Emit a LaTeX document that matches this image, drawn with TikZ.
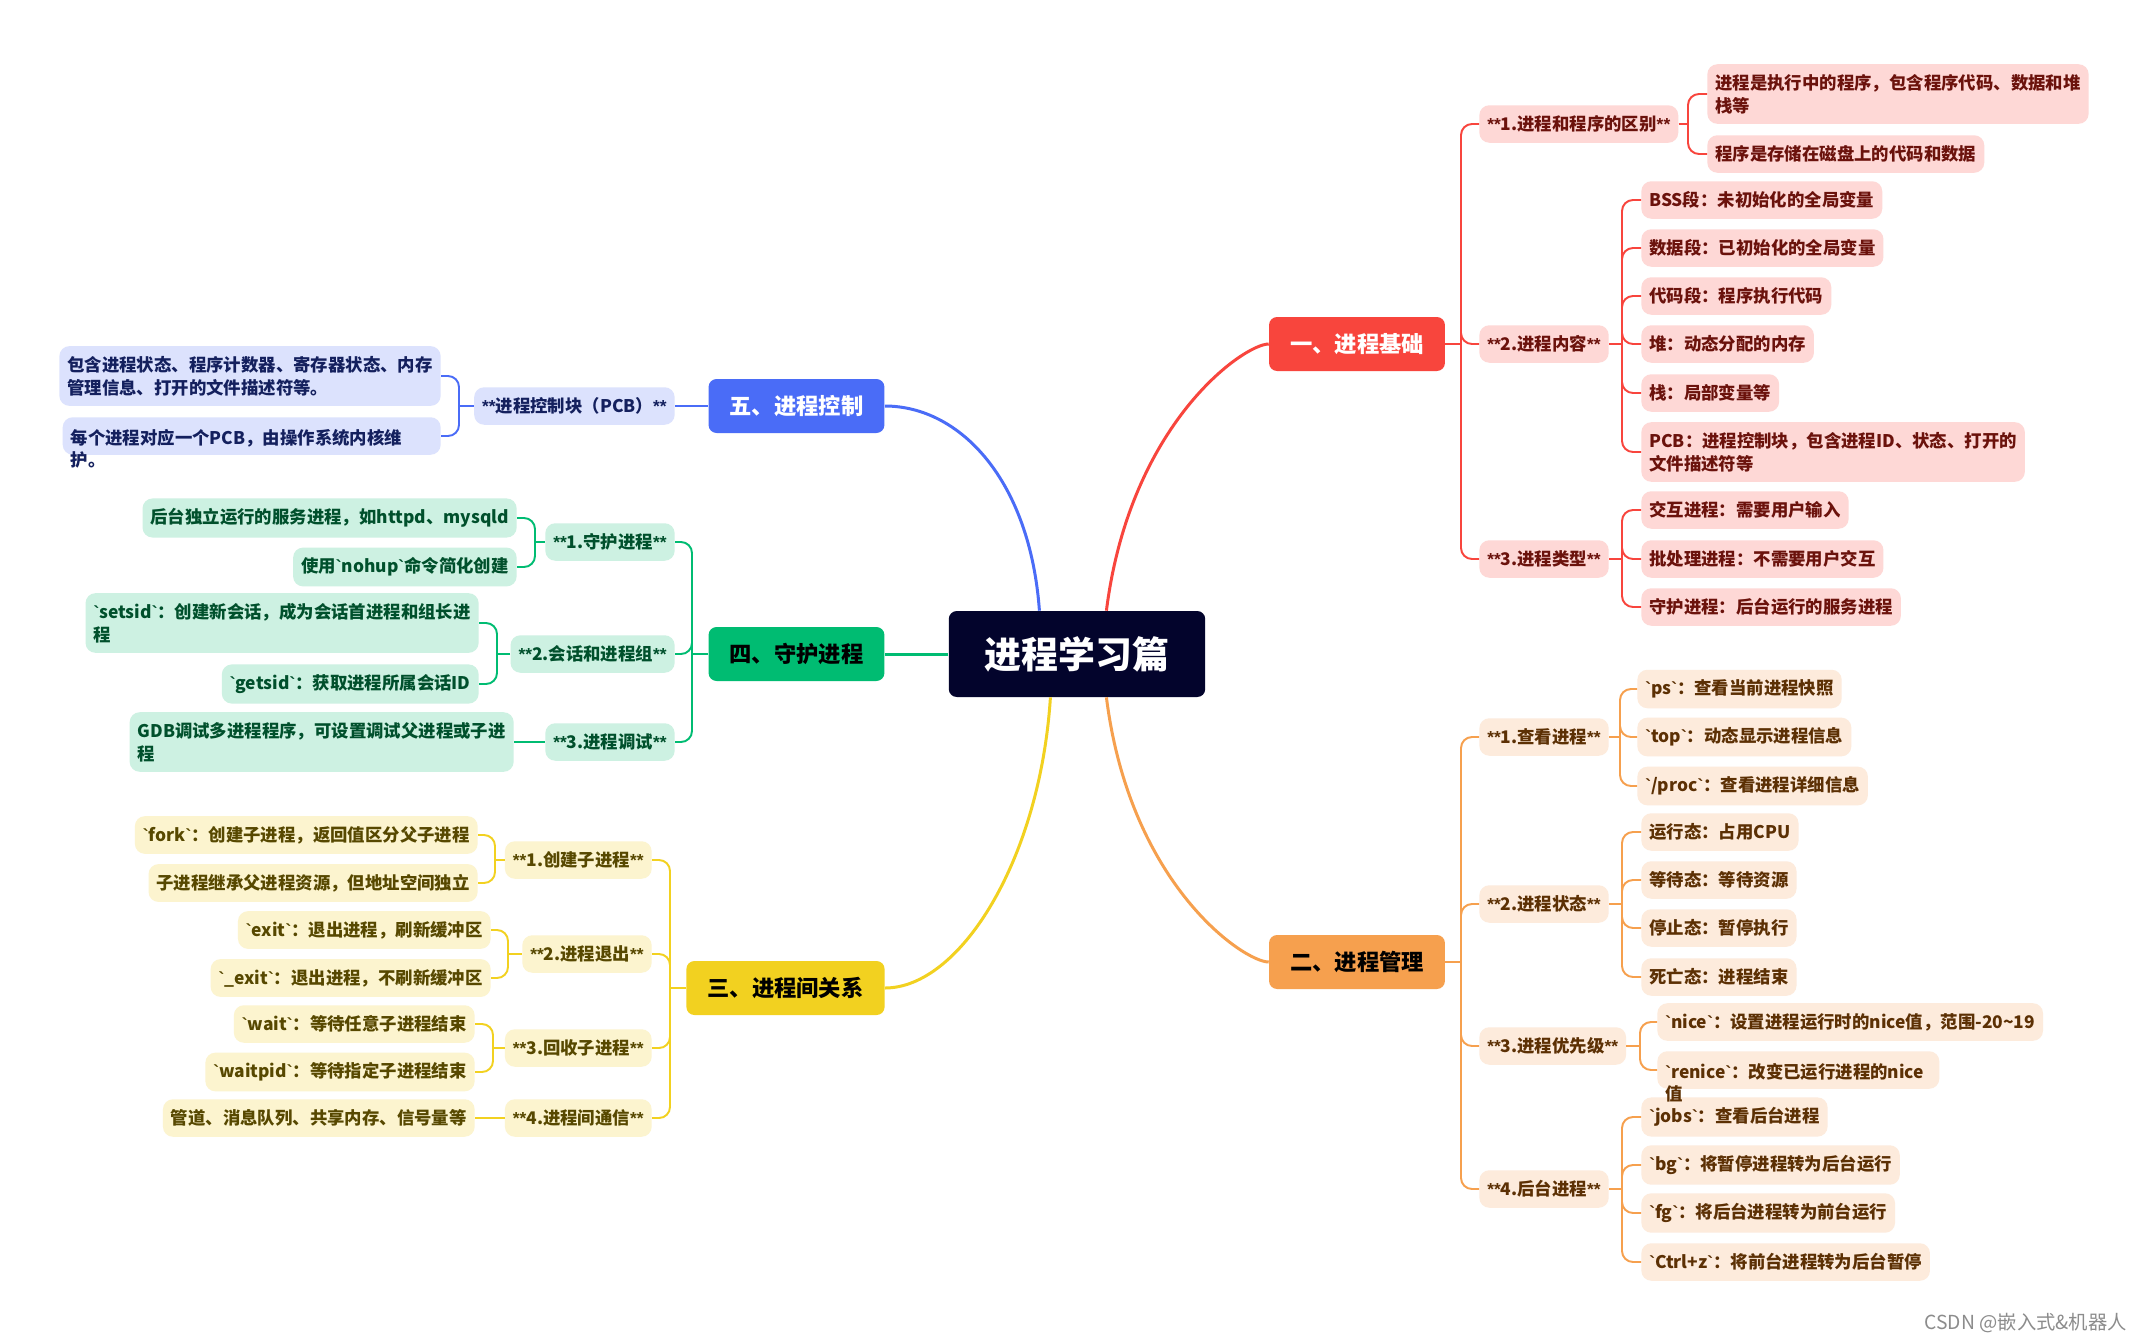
\documentclass[tikz,border=0pt]{standalone}
\usepackage{fontspec}
\newfontfamily\cjk{Noto Sans CJK SC}
\newfontfamily\lat{Liberation Sans}
\newcommand\bq{{\lat\bfseries`}}
\newcommand\stars{{\lat\bfseries**}}
\usetikzlibrary{positioning,calc}

\definecolor{rootc}{HTML}{03042C}
\definecolor{redm}{HTML}{F8453D}
\definecolor{redlt}{HTML}{FED8D6}
\definecolor{reddk}{HTML}{6B120C}
\definecolor{orgm}{HTML}{F6A04E}
\definecolor{orglt}{HTML}{FDEBDC}
\definecolor{orgdk}{HTML}{5C3004}
\definecolor{yelm}{HTML}{F2D120}
\definecolor{yellt}{HTML}{FCF4CF}
\definecolor{yeldk}{HTML}{574800}
\definecolor{grnm}{HTML}{00BC72}
\definecolor{grnlt}{HTML}{CDF1E2}
\definecolor{grndk}{HTML}{00502C}
\definecolor{blum}{HTML}{4A6CF7}
\definecolor{blult}{HTML}{DCE2FD}
\definecolor{bludk}{HTML}{14205E}

\begin{document}
\begin{tikzpicture}[x=0.02cm, y=-0.02cm,
    root/.style={rectangle, rounded corners=0.16cm, fill=rootc, text=white, inner xsep=0.72cm, minimum height=1.72cm, font=\cjk\bfseries\fontsize{21}{25}\selectfont},
    topic/.style={rectangle, rounded corners=0.16cm, inner xsep=0.42cm, minimum height=1.08cm, font=\cjk\bfseries\fontsize{12.7}{15}\selectfont},
    sub/.style={rectangle, rounded corners=0.2cm, inner xsep=0.16cm, inner ysep=0.2cm, minimum height=0.75cm, align=left, font=\cjk\bfseries\fontsize{9.9}{13}\selectfont},
    rsub/.style={sub, fill=redlt, text=reddk},
    osub/.style={sub, fill=orglt, text=orgdk},
    ysub/.style={sub, fill=yellt, text=yeldk},
    gsub/.style={sub, fill=grnlt, text=grndk},
    bsub/.style={sub, fill=blult, text=bludk},
    branch/.style={line width=1.7pt, draw=#1},
    conn/.style={line width=1.1pt, draw=#1, rounded corners=0.22cm},
    wmark/.style={font=\cjk\fontsize{11}{13}\selectfont, text=black!45},
]
\useasboundingbox[fill=white] (0,0) rectangle (2148,1343);

% Center
\node[root] (root) at (1077,654) {进程学习篇};

% Main branches
\node[topic, fill=redm, text=white] (basic) at (1357,344) {一、进程基础};
\node[topic, fill=orgm, text=black] (manage) at (1357,962) {二、进程管理};
\node[topic, fill=yelm, text=black] (relate) at (785.5,988) {三、进程间关系};
\node[topic, fill=grnm, text=black] (daemon) at (796.5,654) {四、守护进程};
\node[topic, fill=blum, text=white] (control) at (796.5,406) {五、进程控制};

\coordinate (rs) at ($(root.north west)+(158,0)$);
\coordinate (bs) at ($(root.north west)+(91,0)$);
\coordinate (ys) at ($(root.south west)+(102,0)$);
\coordinate (os) at ($(root.south west)+(158,0)$);
\draw[branch=redm] (rs) .. controls (1130,423) and (1244,344) .. (basic.west);
\draw[branch=orgm] (os) .. controls (1130,885) and (1244,962) .. (manage.west);
\draw[branch=blum] (bs) .. controls (1030,480) and (960,406) .. (control.east);
\draw[branch=yelm] (ys) .. controls (1040,860) and (960,988) .. (relate.east);
\draw[branch=grnm] (root.west) -- (daemon.east);

% 一、进程基础
\node[rsub, anchor=west] (diff) at (1479,124) {\stars1.进程和程序的区别\stars};
\node[rsub, anchor=west] (content) at (1479,344) {\stars2.进程内容\stars};
\node[rsub, anchor=west] (kind) at (1479,559) {\stars3.进程类型\stars};
\node[rsub, anchor=west] (diffa) at (1707,94) {进程是执行中的程序，包含程序代码、数据和堆\\栈等};
\node[rsub, anchor=west] (diffb) at (1707,154) {程序是存储在磁盘上的代码和数据};
\node[rsub, anchor=west] (bss) at (1641,200) {BSS段：未初始化的全局变量};
\node[rsub, anchor=west] (dseg) at (1641,248) {数据段：已初始化的全局变量};
\node[rsub, anchor=west] (cseg) at (1641,296) {代码段：程序执行代码};
\node[rsub, anchor=west] (heap) at (1641,344) {堆：动态分配的内存};
\node[rsub, anchor=west] (stk) at (1641,393) {栈：局部变量等};
\node[rsub, anchor=west] (pcbseg) at (1641,452) {PCB：进程控制块，包含进程ID、状态、打开的\\文件描述符等};
\node[rsub, anchor=west] (inter) at (1641,510) {交互进程：需要用户输入};
\node[rsub, anchor=west] (batch) at (1641,559) {批处理进程：不需要用户交互};
\node[rsub, anchor=west] (guard) at (1641,607) {守护进程：后台运行的服务进程};

\coordinate (bt) at (1461,344);
\coordinate (difft) at (1688,124);
\coordinate (contt) at (1622,344);
\coordinate (kindt) at (1622,559);
\draw[conn=redm] (basic.east) -- (bt);
\foreach \n in {diff,content,kind} \draw[conn=redm] (bt) |- (\n.west);
\draw[conn=redm] (diff.east) -- (difft);
\foreach \n in {diffa,diffb} \draw[conn=redm] (difft) |- (\n.west);
\draw[conn=redm] (content.east) -- (contt);
\foreach \n in {bss,dseg,cseg,heap,stk,pcbseg} \draw[conn=redm] (contt) |- (\n.west);
\draw[conn=redm] (kind.east) -- (kindt);
\foreach \n in {inter,batch,guard} \draw[conn=redm] (kindt) |- (\n.west);

% 二、进程管理
\node[osub, anchor=west] (view) at (1479,737) {\stars1.查看进程\stars};
\node[osub, anchor=west] (state) at (1479,904) {\stars2.进程状态\stars};
\node[osub, anchor=west] (prio) at (1479,1046) {\stars3.进程优先级\stars};
\node[osub, anchor=west] (bgjob) at (1479,1189) {\stars4.后台进程\stars};
\node[osub, anchor=west] (ps) at (1637,689) {\bq ps\bq：查看当前进程快照};
\node[osub, anchor=west] (top) at (1637,737) {\bq top\bq：动态显示进程信息};
\node[osub, anchor=west] (proc) at (1637,786) {\bq/proc\bq：查看进程详细信息};
\node[osub, anchor=west] (run) at (1641,832) {运行态：占用CPU};
\node[osub, anchor=west] (wait) at (1641,880) {等待态：等待资源};
\node[osub, anchor=west] (stop) at (1641,928) {停止态：暂停执行};
\node[osub, anchor=west] (dead) at (1641,977) {死亡态：进程结束};
\node[osub, anchor=west] (nice) at (1657,1022) {\bq nice\bq：设置进程运行时的nice值，范围-20\textasciitilde19};
\node[osub, anchor=west] (jobs) at (1641,1117) {\bq jobs\bq：查看后台进程};
\node[osub, anchor=west] (bg) at (1641,1165) {\bq bg\bq：将暂停进程转为后台运行};
\node[osub, anchor=west] (fg) at (1641,1213) {\bq fg\bq：将后台进程转为前台运行};
\node[osub, anchor=west] (ctrlz) at (1641,1262) {\bq Ctrl+z\bq：将前台进程转为后台暂停};
\node[osub, anchor=west, text width=5.32cm] (renice) at (1657,1070) {\raisebox{0pt}[\height][0pt]{\begin{tabular}[t]{@{}l@{}}\bq renice\bq：改变已运行进程的nice\\值\end{tabular}}};

\coordinate (mt) at (1461,962);
\coordinate (viewt) at (1620,737);
\coordinate (statet) at (1622,904);
\coordinate (priot) at (1640,1046);
\coordinate (bgjobt) at (1622,1189);
\draw[conn=orgm] (manage.east) -- (mt);
\foreach \n in {view,state,prio,bgjob} \draw[conn=orgm] (mt) |- (\n.west);
\draw[conn=orgm] (view.east) -- (viewt);
\foreach \n in {ps,top,proc} \draw[conn=orgm] (viewt) |- (\n.west);
\draw[conn=orgm] (state.east) -- (statet);
\foreach \n in {run,wait,stop,dead} \draw[conn=orgm] (statet) |- (\n.west);
\draw[conn=orgm] (prio.east) -- (priot);
\foreach \n in {nice,renice} \draw[conn=orgm] (priot) |- (\n.west);
\draw[conn=orgm] (bgjob.east) -- (bgjobt);
\foreach \n in {jobs,bg,fg,ctrlz} \draw[conn=orgm] (bgjobt) |- (\n.west);

% 三、进程间关系
\node[ysub, anchor=east] (create) at (652,860) {\stars1.创建子进程\stars};
\node[ysub, anchor=east] (quit) at (652,954) {\stars2.进程退出\stars};
\node[ysub, anchor=east] (reap) at (652,1048) {\stars3.回收子进程\stars};
\node[ysub, anchor=east] (ipc) at (652,1118) {\stars4.进程间通信\stars};
\node[ysub, anchor=east] (fork) at (478,835) {\bq fork\bq：创建子进程，返回值区分父子进程};
\node[ysub, anchor=east] (inherit) at (478,883) {子进程继承父进程资源，但地址空间独立};
\node[ysub, anchor=east] (exit) at (491,930) {\bq exit\bq：退出进程，刷新缓冲区};
\node[ysub, anchor=east] (uexit) at (491,978) {\bq\_exit\bq：退出进程，不刷新缓冲区};
\node[ysub, anchor=east] (waitany) at (475,1024) {\bq wait\bq：等待任意子进程结束};
\node[ysub, anchor=east] (waitpid) at (475,1072) {\bq waitpid\bq：等待指定子进程结束};
\node[ysub, anchor=east] (pipes) at (475,1118) {管道、消息队列、共享内存、信号量等};

\coordinate (yt) at (670,988);
\coordinate (createt) at (495,860);
\coordinate (quitt) at (508,954);
\coordinate (reapt) at (493,1048);
\draw[conn=yelm] (relate.west) -- (yt);
\foreach \n in {create,quit,reap,ipc} \draw[conn=yelm] (yt) |- (\n.east);
\draw[conn=yelm] (create.west) -- (createt);
\foreach \n in {fork,inherit} \draw[conn=yelm] (createt) |- (\n.east);
\draw[conn=yelm] (quit.west) -- (quitt);
\foreach \n in {exit,uexit} \draw[conn=yelm] (quitt) |- (\n.east);
\draw[conn=yelm] (reap.west) -- (reapt);
\foreach \n in {waitany,waitpid} \draw[conn=yelm] (reapt) |- (\n.east);
\draw[conn=yelm] (ipc.west) -- (pipes.east);

% 四、守护进程
\node[gsub, anchor=east] (guardp) at (675,542) {\stars1.守护进程\stars};
\node[gsub, anchor=east] (session) at (675,654) {\stars2.会话和进程组\stars};
\node[gsub, anchor=east] (debug) at (675,742) {\stars3.进程调试\stars};
\node[gsub, anchor=east] (service) at (517,518) {后台独立运行的服务进程，如httpd、mysqld};
\node[gsub, anchor=east] (nohup) at (517,567) {使用\bq nohup\bq 命令简化创建};
\node[gsub, anchor=east] (setsid) at (479,623) {\bq setsid\bq：创建新会话，成为会话首进程和组长进\\程};
\node[gsub, anchor=east] (getsid) at (479,684) {\bq getsid\bq：获取进程所属会话ID};
\node[gsub, anchor=east] (gdb) at (514,742) {GDB调试多进程程序，可设置调试父进程或子进\\程};

\coordinate (gt) at (692,654);
\coordinate (guardt) at (535,542);
\coordinate (sesst) at (497,654);
\draw[conn=grnm] (daemon.west) -- (gt);
\foreach \n in {guardp,session,debug} \draw[conn=grnm] (gt) |- (\n.east);
\draw[conn=grnm] (guardp.west) -- (guardt);
\foreach \n in {service,nohup} \draw[conn=grnm] (guardt) |- (\n.east);
\draw[conn=grnm] (session.west) -- (sesst);
\foreach \n in {setsid,getsid} \draw[conn=grnm] (sesst) |- (\n.east);
\draw[conn=grnm] (debug.west) -- (gdb.east);

% 五、进程控制
\node[bsub, anchor=east] (pcb) at (675,406) {\stars 进程控制块（PCB）\stars};
\node[bsub, anchor=east] (pcbinfo) at (441,376) {包含进程状态、程序计数器、寄存器状态、内存\\管理信息、打开的文件描述符等。};
\node[bsub, anchor=east, text width=7.24cm] (pcbown) at (441,436) {\raisebox{0pt}[\height][0pt]{\begin{tabular}[t]{@{}l@{}}每个进程对应一个PCB，由操作系统内核维\\护。\end{tabular}}};

\coordinate (pt) at (459,406);
\draw[conn=blum] (control.west) -- (pcb.east);
\draw[conn=blum] (pcb.west) -- (pt);
\foreach \n in {pcbinfo,pcbown} \draw[conn=blum] (pt) |- (\n.east);

% Watermark
\node[wmark, anchor=east] (csdn) at (2133,1323) {CSDN @嵌入式\&机器人};

\end{tikzpicture}
\end{document}
